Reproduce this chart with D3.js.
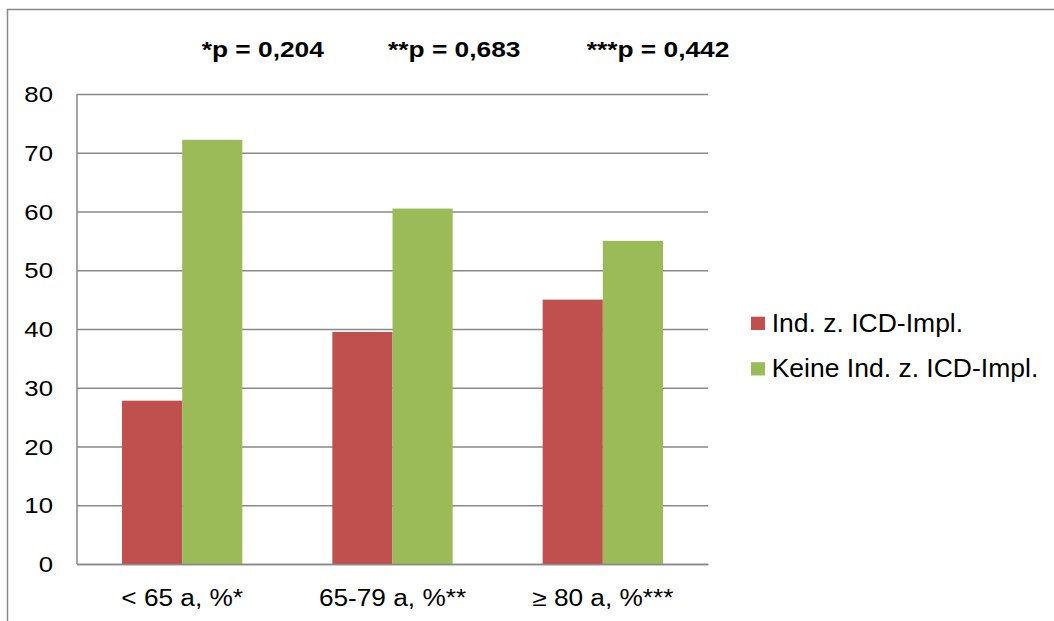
<!DOCTYPE html>
<html>
<head>
<meta charset="utf-8">
<script src="https://cdn.jsdelivr.net/npm/d3@7"></script>
<style>
  html, body { margin: 0; padding: 0; background: #fff; }
  svg { display: block; font-family: "Liberation Sans", Arial, sans-serif; }
</style>
</head>
<body>
<svg id="chart" width="1054" height="621"></svg>
<script>
// Age groups and share (%) of patients per group
const categories = ["< 65 a, %*", "65-79 a, %**", "≥ 80 a, %***"];
const seriesNames = ["Ind. z. ICD-Impl.", "Keine Ind. z. ICD-Impl."];
const indicated = [27.8, 39.5, 45.0];
const notIndicated = [72.2, 60.5, 55.0];
const yTicks = [0, 10, 20, 30, 40, 50, 60, 70, 80];
const pValues = ["*p = 0,204", "**p = 0,683", "***p = 0,442"];

const colors = ["#C0504D", "#9BBB59"];
const gridColor = "#898989";

const svg = d3.select("#chart");

// widen a text element horizontally by a factor of its natural width
function stretch(sel, factor) {
  sel.each(function () {
    const w = this.getComputedTextLength();
    d3.select(this).attr("textLength", w * factor).attr("lengthAdjust", "spacingAndGlyphs");
  });
}

// outer chart frame
svg.append("rect")
  .attr("x", 7.5).attr("y", 9.5)
  .attr("width", 1200).attr("height", 800)
  .attr("fill", "none").attr("stroke", gridColor).attr("stroke-width", 1.5);

const plot = { left: 77, right: 708, top: 94, bottom: 564 };

const x = d3.scaleBand()
  .domain(categories)
  .range([plot.left, plot.right])
  .paddingInner(0.428)
  .paddingOuter(0.214);

const xInner = d3.scaleBand()
  .domain(d3.range(seriesNames.length))
  .range([0, x.bandwidth()]);

const y = d3.scaleLinear().domain([0, 80]).range([plot.bottom, plot.top]);

// horizontal gridlines + y labels
const yAxis = d3.axisLeft(y).tickValues(yTicks).tickSize(-(plot.right - plot.left)).tickPadding(24).tickFormat(d3.format("d"));
const gy = svg.append("g").attr("transform", `translate(${plot.left},0)`).call(yAxis);
gy.select(".domain").remove();
gy.selectAll(".tick line").attr("stroke", gridColor).attr("stroke-width", 1.5);
gy.selectAll(".tick text")
  .attr("font-size", 22).attr("fill", "#000")
  .attr("dy", "0.35em");
stretch(gy.selectAll(".tick text"), 1.17);

// left axis line
svg.append("line")
  .attr("x1", plot.left).attr("x2", plot.left)
  .attr("y1", plot.top).attr("y2", plot.bottom)
  .attr("stroke", gridColor).attr("stroke-width", 1.5);

// bars
const data = categories.map((c, i) => ({ cat: c, values: [indicated[i], notIndicated[i]] }));
const groups = svg.append("g").selectAll("g").data(data).join("g")
  .attr("transform", d => `translate(${x(d.cat)},0)`);
groups.selectAll("rect").data(d => d.values).join("rect")
  .attr("x", (d, i) => xInner(i))
  .attr("width", xInner.bandwidth())
  .attr("y", d => y(d))
  .attr("height", d => y(0) - y(d))
  .attr("fill", (d, i) => colors[i]);

// category axis
const gx = svg.append("g").attr("transform", `translate(0,${plot.bottom})`)
  .call(d3.axisBottom(x).tickSize(0).tickPadding(0));
gx.select(".domain").attr("stroke", gridColor).attr("stroke-width", 1.5);
gx.selectAll(".tick text")
  .attr("font-size", 23).attr("fill", "#000")
  .attr("dy", 0).attr("y", 42);
stretch(gx.selectAll(".tick text"), 1.14);

// p-values across the top
const pX = [201.7, 388, 586.7];
const pt = svg.append("g").selectAll("text").data(pValues).join("text")
  .attr("x", (d, i) => pX[i]).attr("y", 57)
  .attr("font-size", 22.5).attr("font-weight", "bold").attr("fill", "#000")
  .text(d => d);
stretch(pt, 1.17);

// legend
const legend = svg.append("g").selectAll("g").data(seriesNames).join("g")
  .attr("transform", (d, i) => `translate(751,${316.7 + i * 45.5})`);
legend.append("rect").attr("width", 14).attr("height", 13.3)
  .attr("fill", (d, i) => colors[i]);
const lt = legend.append("text").attr("x", 20.7).attr("y", 15)
  .attr("font-size", 25).attr("fill", "#000").text(d => d);
stretch(lt, 1.06);
</script>
</body>
</html>
